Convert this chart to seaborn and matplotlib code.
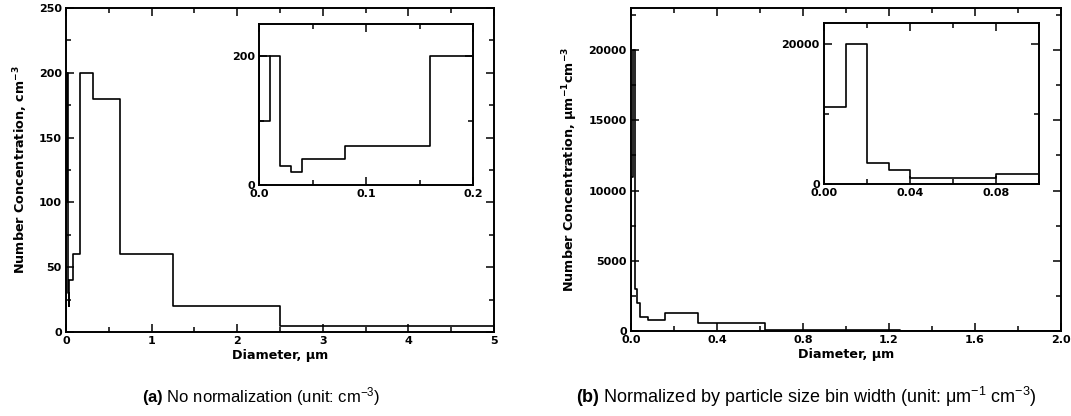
import numpy as np
import pandas as pd
import matplotlib
matplotlib.use("Agg")
import matplotlib.pyplot as plt
from matplotlib.ticker import MultipleLocator, FormatStrFormatter
import seaborn as sns

# ---------------- data ----------------
bin_edges = [0.0, 0.01, 0.02, 0.03, 0.04, 0.08, 0.16, 0.3125, 0.625, 1.25, 2.5, 5.0]
counts_cm3 = [100, 200, 30, 20, 40, 60, 200, 180, 60, 20, 5]
counts_norm = [11000, 20000, 3000, 2000, 1000, 750, 1250, 560, 94, 16, 2]

# extra short segment visible at the top-left of panel (a) inset
extra_edges = [0.0, 0.01]
extra_values = [200]

# inset of panel (b)
inset_b_edges = [0.0, 0.01, 0.02, 0.03, 0.04, 0.08, 0.1]
inset_b_values = [11000, 20000, 3000, 2000, 900, 1500]

caption_a = ("(a)", "No normalization (unit: cm$^{-3}$)")
caption_b = ("(b)", "Normalized by particle size bin width (unit: μm$^{-1}$ cm$^{-3}$)")


def step_frame(edges, values):
    x = [edges[0]] + list(edges)
    y = [0] + list(values) + [values[-1]]
    return pd.DataFrame({"x": x, "y": y})


sns.set_style("ticks")
plt.rcParams["font.family"] = ["DejaVu Sans"]
plt.rcParams["font.weight"] = "bold"
plt.rcParams["mathtext.default"] = "regular"
plt.rcParams["mathtext.fontset"] = "custom"
plt.rcParams["mathtext.rm"] = "Liberation Sans"
plt.rcParams["mathtext.bf"] = "Liberation Sans:bold"
plt.rcParams["axes.linewidth"] = 1.4
for k in ("text.color", "axes.labelcolor", "xtick.color", "ytick.color", "axes.edgecolor"):
    plt.rcParams[k] = "black"

fig = plt.figure(figsize=(10.71, 4.16), dpi=100)

W, H = 1071, 416


def ax_from_px(x0, x1, ytop, ybot):
    return fig.add_axes([x0 / W, 1 - ybot / H, (x1 - x0) / W, (ybot - ytop) / H])


ax_a = ax_from_px(66, 494, 8, 332)
ax_b = ax_from_px(631, 1061, 8, 331)
ax_ai = ax_from_px(259, 473, 24, 185)
ax_bi = ax_from_px(824, 1039, 23, 184)

tick_fs = 8
lab_fs = 9.2


def style(ax, xmaj, xmin, ymaj, ymin, xlim, ylim, fs=tick_fs):
    ax.set_xlim(*xlim)
    ax.set_ylim(*ylim)
    ax.xaxis.set_major_locator(xmaj)
    ax.xaxis.set_minor_locator(xmin)
    ax.yaxis.set_major_locator(ymaj)
    ax.yaxis.set_minor_locator(ymin)
    ax.tick_params(which="both", direction="in", top=True, right=True,
                   width=1.1, labelsize=fs, pad=3, colors="black")
    ax.tick_params(which="major", length=6)
    ax.tick_params(which="minor", length=3.5)
    for sp in ax.spines.values():
        sp.set_visible(True)
        sp.set_linewidth(1.4)
        sp.set_color("black")
    ax.set_xlabel("")
    ax.set_ylabel("")


line_kw = dict(color="black", linewidth=1.2, drawstyle="steps-post",
               estimator=None, sort=False, legend=False)

df_a = step_frame(bin_edges, counts_cm3)
df_b = step_frame(bin_edges, counts_norm)
df_extra = step_frame(extra_edges, extra_values)
df_bi = step_frame(inset_b_edges, inset_b_values)

# panel a
sns.lineplot(data=df_a, x="x", y="y", ax=ax_a, **line_kw)
style(ax_a, MultipleLocator(1), MultipleLocator(0.5), MultipleLocator(50),
      MultipleLocator(25), (0, 5), (0, 250))
ax_a.set_xlabel("Diameter, μm", fontsize=lab_fs, fontweight="bold", labelpad=2)
ax_a.set_ylabel("Number Concentration, cm$^{-3}$", fontsize=lab_fs,
                fontweight="bold", labelpad=6)

# panel a inset
sns.lineplot(data=df_a, x="x", y="y", ax=ax_ai, **line_kw)
sns.lineplot(data=df_extra, x="x", y="y", ax=ax_ai, **line_kw)
style(ax_ai, MultipleLocator(0.1), MultipleLocator(0.05), MultipleLocator(200),
      MultipleLocator(100), (0, 0.2), (0, 250))
ax_ai.xaxis.set_major_formatter(FormatStrFormatter("%.1f"))

# panel b
sns.lineplot(data=df_b, x="x", y="y", ax=ax_b, **line_kw)
style(ax_b, MultipleLocator(0.4), MultipleLocator(0.2), MultipleLocator(5000),
      MultipleLocator(2500), (0, 2.0), (0, 23000))
ax_b.xaxis.set_major_formatter(FormatStrFormatter("%.1f"))
ax_b.set_xlabel("Diameter, μm", fontsize=lab_fs, fontweight="bold", labelpad=2)
ax_b.set_ylabel("Number Concentration, μm$^{-1}$cm$^{-3}$", fontsize=lab_fs,
                fontweight="bold", labelpad=6)

# panel b inset
sns.lineplot(data=df_bi, x="x", y="y", ax=ax_bi, **line_kw)
style(ax_bi, MultipleLocator(0.04), MultipleLocator(0.02), MultipleLocator(20000),
      MultipleLocator(10000), (0, 0.1), (0, 23000))
ax_bi.xaxis.set_major_formatter(FormatStrFormatter("%.2f"))

for ax in (ax_a, ax_b, ax_ai, ax_bi):
    for lab in ax.get_xticklabels() + ax.get_yticklabels():
        lab.set_fontweight("bold")

# captions
cap_kw = dict(family="Liberation Sans", fontweight="normal",
              ha="center", va="center", color="black")
fig.text(261 / W, 1 - 397 / H, r"$\mathbf{(a)}$ " + caption_a[1], fontsize=12, **cap_kw)
fig.text(806 / W, 1 - 397 / H, r"$\mathbf{(b)}$ " + caption_b[1], fontsize=13, **cap_kw)

fig.savefig("out.png", dpi=100, facecolor="white")
